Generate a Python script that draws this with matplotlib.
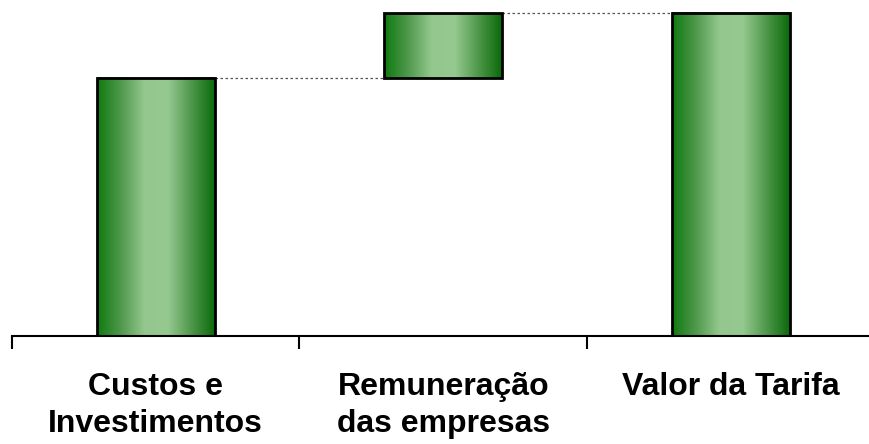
import numpy as np
import matplotlib
matplotlib.use("Agg")
import matplotlib.pyplot as plt
from matplotlib.colors import LinearSegmentedColormap

# dados (valores relativos, sem escala no eixo)
categorias = ["Custos e\nInvestimentos", "Remuneração\ndas empresas", "Valor da Tarifa"]
inicio = [0, 80, 0]
altura = [80, 20, 100]

plt.rcParams["font.family"] = ["Liberation Sans", "DejaVu Sans"]

W, H = 870, 444
fig = plt.figure(figsize=(W / 100, H / 100), dpi=100)
ax = fig.add_axes([12 / W, (H - 336) / H, 862.5 / W, 336 / H])

cmap = LinearSegmentedColormap.from_list(
    "verde", ["#0f7a0f", "#4f984c", "#93c78d", "#96c990", "#4f984c", "#0a6a0a"])
grad = np.linspace(0, 1, 256).reshape(1, -1)

larg = 0.41
x = np.arange(len(categorias))
for xi, b, h in zip(x, inicio, altura):
    ax.imshow(grad, extent=(xi - larg / 2, xi + larg / 2, b, b + h),
              cmap=cmap, aspect="auto", zorder=2)
    ax.add_patch(plt.Rectangle((xi - larg / 2, b), larg, h, fill=False,
                               ec="black", lw=2, zorder=3))

# linhas de ligação
for i in range(len(x) - 1):
    y = inicio[i] + altura[i]
    ax.plot([x[i] + larg / 2, x[i + 1] - larg / 2], [y, y], ls=(0, (2, 2)),
            color="#555555", lw=0.9, zorder=1)

ax.set_xlim(-0.5, len(x) - 0.5)
ax.set_ylim(0, 104)
for s in ["top", "right", "left"]:
    ax.spines[s].set_visible(False)
ax.spines["bottom"].set_linewidth(1.5)
ax.set_yticks([])
ax.set_xticks(x)
ax.set_xticklabels(categorias, fontsize=23, fontweight="bold", linespacing=1.32)
ax.tick_params(axis="x", which="major", length=0, pad=26)
ax.set_xticks([-0.5, 0.5, 1.5], minor=True)
ax.tick_params(axis="x", which="minor", length=9, width=1.5)

fig.savefig("out.png", dpi=100, facecolor="white")
